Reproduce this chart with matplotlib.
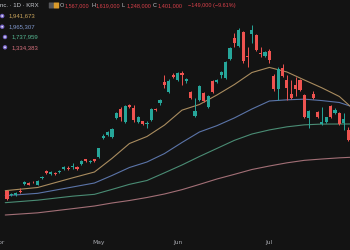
import matplotlib
matplotlib.use('Agg')
import matplotlib.pyplot as plt
import matplotlib.patches as mpatches
import numpy as np

# ── Data ──────────────────────────────────────────────────────────────────────
# daily candles, prices in thousand KRW
OPEN = [948, 900, 906, 954, 1032, 1044, 1062, 1026, 1104, 1188,
        1156, 1168, 1172, 1216, 1230, 1242, 1236, 1268, 1332, 1296,
        1328, 1356, 1590, 1626, 1596, 1830, 1938, 1780, 1976, 1944,
        1776, 1788, 1758, 1798, 1938, 2000, 2260, 2140, 2340, 2280,
        2360, 2268, 2136, 1850, 2040, 2128, 1962, 2268, 2262, 2346,
        2310, 2528, 2788, 2694, 2860, 2568, 2828, 2826, 2610, 2568,
        2634, 2332, 2168, 2428, 2280, 2112, 2220, 2280, 2100, 1820,
        2112, 1900, 1752, 1776, 1970, 1886, 1890, 1764, 1680]
HIGH = [960, 930, 936, 984, 1074, 1056, 1074, 1080, 1134, 1200,
        1188, 1176, 1200, 1248, 1254, 1284, 1248, 1320, 1338, 1320,
        1338, 1470, 1632, 1668, 1704, 1896, 1956, 1980, 1992, 1986,
        1854, 1794, 1794, 1950, 1950, 2058, 2340, 2292, 2364, 2382,
        2388, 2310, 2148, 2064, 2220, 2142, 2100, 2280, 2298, 2394,
        2508, 2676, 2844, 2904, 2874, 2676, 2940, 2838, 2676, 2634,
        2658, 2352, 2440, 2478, 2340, 2280, 2316, 2292, 2112, 1926,
        2148, 1908, 1960, 1842, 1986, 1944, 1902, 1884, 1716]
LOW = [840, 888, 894, 924, 1020, 1020, 1044, 1020, 1092, 1152,
       1146, 1140, 1164, 1206, 1200, 1212, 1206, 1260, 1302, 1290,
       1296, 1350, 1572, 1614, 1584, 1818, 1794, 1770, 1950, 1776,
       1764, 1740, 1704, 1788, 1908, 1986, 2180, 2130, 2304, 2268,
       2220, 2250, 2052, 1842, 2028, 2016, 1950, 2124, 2250, 2304,
       2298, 2520, 2680, 2682, 2480, 2436, 2724, 2628, 2556, 2556,
       2490, 2154, 2040, 2316, 2040, 2058, 2088, 2148, 1830, 1704,
       2058, 1830, 1740, 1764, 1824, 1878, 1746, 1680, 1548]
CLOSE = [852, 918, 924, 942, 1062, 1026, 1052, 1068, 1120, 1160,
         1176, 1148, 1192, 1240, 1218, 1254, 1212, 1308, 1308, 1312,
         1304, 1460, 1608, 1660, 1692, 1880, 1832, 1968, 1962, 1806,
         1840, 1748, 1770, 1938, 1926, 2046, 2220, 2272, 2320, 2360,
         2340, 2288, 2060, 1908, 2208, 2034, 2088, 2136, 2280, 2376,
         2496, 2660, 2728, 2880, 2514, 2556, 2880, 2640, 2598, 2620,
         2520, 2168, 2408, 2328, 2180, 2064, 2168, 2160, 1840, 1914,
         2068, 1840, 1782, 1832, 1832, 1920, 1752, 1812, 1560]

# moving averages at these candle positions
MA_IDX = [-0.4, 7, 15, 20, 24, 28, 32, 36, 40, 44, 48, 52, 56, 60, 64, 68, 72, 76, 78.4]
MA_A = [952, 990, 1106, 1176, 1339, 1518, 1602, 1739, 1918, 1986,
        2100, 2226, 2370, 2431, 2376, 2280, 2186, 2082, 1968]
MA_B = [892, 920, 996, 1044, 1134, 1230, 1296, 1397, 1530, 1656,
        1732, 1825, 1932, 2028, 2042, 2050, 2033, 2010, 1968]
MA_C = [808, 838, 886, 908, 967, 1028, 1074, 1166, 1260, 1362,
        1459, 1556, 1632, 1681, 1718, 1742, 1751, 1752, 1752]
MA_D = [660, 686, 736, 768, 804, 834, 870, 912, 964, 1027,
        1092, 1148, 1206, 1248, 1286, 1316, 1332, 1346, 1352]

MONTH_POS = [-1.6, 21, 39, 60]
MONTH_LABELS = ['Apr', 'May', 'Jun', 'Jul']

OHLC_LABELS = ['1,567,000', '1,619,000', '1,248,000', '1,401,000']
CHANGE_LABEL = '\u2212149,000 (\u22129.61%)'
MA_LABELS = ['1,941,673', '1,965,307', '1,737,959', '1,334,383']

# ── Colors ────────────────────────────────────────────────────────────────────
BG = '#131313'
UP = '#26a69a'
DOWN = '#ef5350'
MA_COLORS = ['#a98c5f', '#5b74a8', '#4a8c74', '#a26f76']
MA_TEXT = ['#c9a45c', '#7f97cc', '#55b892', '#d4707c']
TXT = '#c8cad0'
RED_TXT = '#d8404a'

W, H = 350, 250
fig = plt.figure(figsize=(3.5, 2.5), dpi=100, facecolor=BG)
ax = fig.add_axes([0, 0, 1, 1], facecolor=BG)

x = np.arange(len(OPEN))
o = np.array(OPEN)
c = np.array(CLOSE)
up = c >= o
cols = np.where(up, UP, DOWN)

# MAs
for vals, col in zip([MA_D, MA_C, MA_B, MA_A], MA_COLORS[::-1]):
    ax.plot(MA_IDX, vals, color=col, lw=0.8, zorder=1, solid_capstyle='round')

# wicks + bodies
ax.vlines(x, LOW, HIGH, colors=cols, lw=0.7, zorder=2)
ax.bar(x, np.abs(c - o), bottom=np.minimum(o, c), width=0.72,
       color=cols, edgecolor='none', zorder=3)

span = 350 / 4.441
ax.set_xlim(-0.383, -0.383 + span)
ax.set_ylim(240, 3240)
ax.set_yticks([])
ax.set_xticks(MONTH_POS)
ax.set_xticklabels(MONTH_LABELS)
ax.tick_params(axis='x', length=0, pad=-7.5, labelsize=4.3, labelcolor='#a8aab0')
for s in ax.spines.values():
    s.set_visible(False)

# ── Legend block ──────────────────────────────────────────────────────────────
def ftxt(px, py, s, color, size=4.3):
    fig.text(px / W, 1 - py / H, s, color=color, fontsize=size,
             family='Liberation Sans', va='center', ha='left')

ftxt(-0.5, 5.5, 'nc. \u00b7 1D \u00b7 KRX', TXT)
fig.add_artist(mpatches.FancyBboxPatch((49.5 / W, 1 - 8 / H), 4 / W, 5 / H,
               boxstyle='round,pad=0.002', fc='#55565a', ec='none'))
fig.add_artist(mpatches.FancyBboxPatch((54.5 / W, 1 - 8 / H), 4 / W, 5 / H,
               boxstyle='round,pad=0.002', fc='#d99a2b', ec='none'))

xs_letter = [60, 91, 122, 153]
xs_val = [64.5, 95.5, 126.5, 157.5]
for lab, xl, xv, v in zip('OHLC', xs_letter, xs_val, OHLC_LABELS):
    ftxt(xl, 5.5, lab, TXT, 4.0)
    ftxt(xv, 5.5, v, RED_TXT, 4.0)
ftxt(187.5, 5.5, CHANGE_LABEL, RED_TXT, 4.0)

rows_y = [16, 26.7, 37, 47.3]
icon_x = [2.2, 2.2, 5, 5]
val_x = [9, 9, 12, 12]
for yy, ix, vx, lab, col in zip(rows_y, icon_x, val_x, MA_LABELS, MA_TEXT):
    fig.add_artist(mpatches.Ellipse((ix / W, 1 - yy / H), 4.4 / W, 4.4 / H,
                   fc='#7563c4', ec='none'))
    fig.add_artist(mpatches.Ellipse((ix / W, 1 - yy / H), 1.8 / W, 1.8 / H,
                   fc='#e6e2f6', ec='none'))
    ftxt(vx, yy, lab, col)

fig.savefig('out.png', dpi=100, facecolor=BG)
